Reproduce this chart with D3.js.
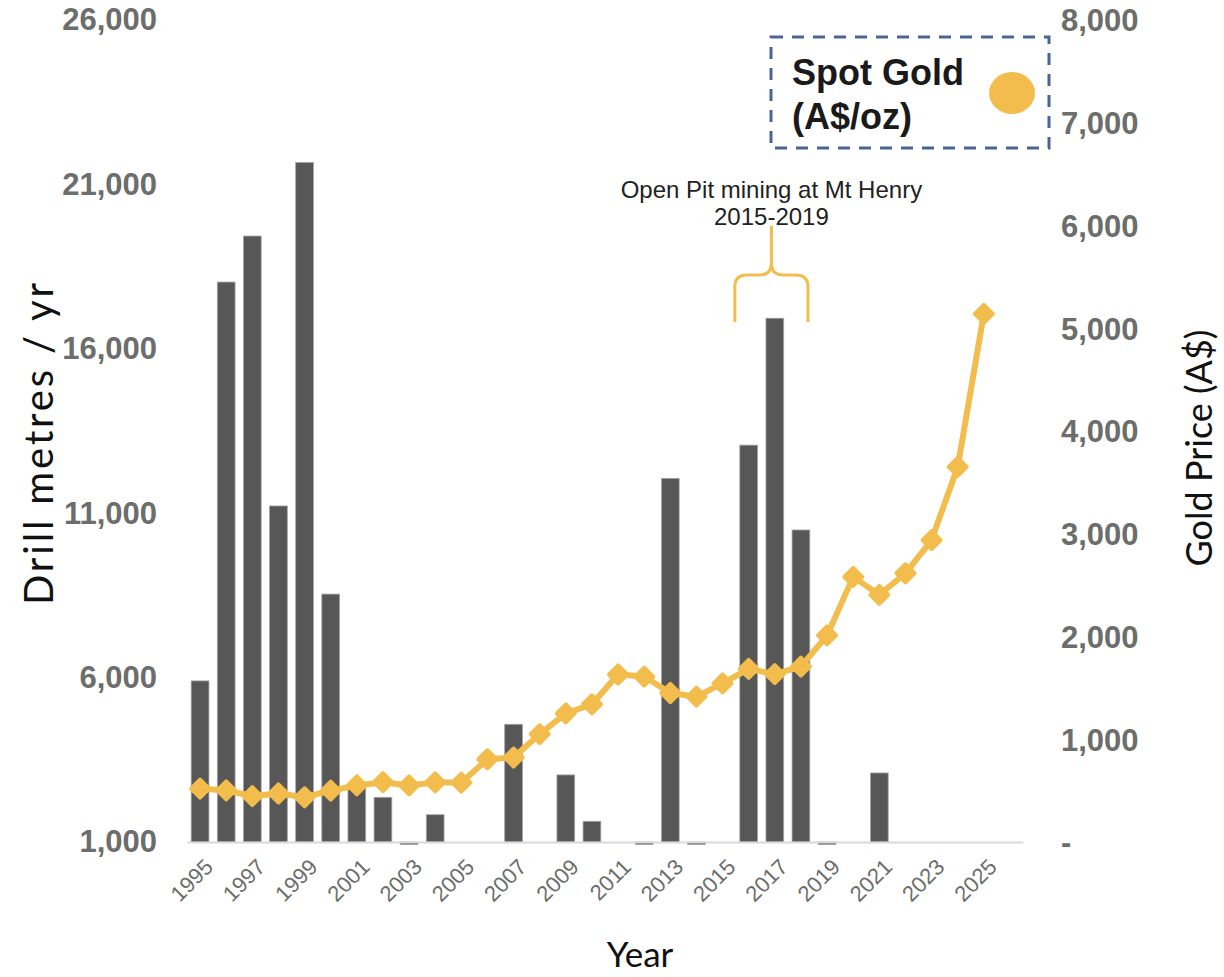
<!DOCTYPE html>
<html>
<head>
<meta charset="utf-8">
<script src="https://cdn.jsdelivr.net/npm/d3@7/dist/d3.min.js"></script>
<style>
  html, body { margin: 0; padding: 0; background: #ffffff; }
  svg { display: block; }
</style>
</head>
<body>
<svg id="chart" width="1224" height="977"></svg>
<script>
// ---------------- DATA ----------------
const years = d3.range(1995, 2027); // 1995 .. 2026 (2026 empty slot)
const drillMetres = [5900, 18030, 19430, 11220, 21670, 8540, 2670, 2360, 920, 1830,
  null, null, 4580, null, 3040, 1630, null, 920, 12060, 920,
  null, 13070, 16930, 10490, 920, null, 3100, null, null, null, null, null];
const goldPrice = [530, 512, 457, 482, 445, 510, 560, 592, 560, 590,
  588, 815, 832, 1060, 1262, 1350, 1640, 1620, 1460, 1424,
  1554, 1695, 1643, 1716, 2020, 2590, 2415, 2625, 2948, 3660, 5150, null];
const xTickYears = d3.range(1995, 2026, 2);
const leftTicks = [1000, 6000, 11000, 16000, 21000, 26000];
const rightTicks = [0, 1000, 2000, 3000, 4000, 5000, 6000, 7000, 8000];
const annotationLines = ["Open Pit mining at Mt Henry", "2015-2019"];
const annotationSpan = [2015, 2018];
const legendLines = ["Spot Gold", "(A$/oz)"];

// ---------------- SETUP ----------------
const svg = d3.select("#chart");
const GOLD = "#f2bd4c";
const BAR = "#575757";
const TICK = "#6b6e6b";

const x = d3.scaleBand().domain(years).range([187, 1023]).paddingInner(0.32).paddingOuter(0.16);
const yL = d3.scaleLinear().domain([1000, 26000]).range([842, 20]);
const yR = d3.scaleLinear().domain([0, 8000]).range([843, 21]);
const cx = d => x(d) + x.bandwidth() / 2;

// bars
const barData = years.map((yr, i) => ({ yr, v: drillMetres[i] })).filter(d => d.v != null);
svg.append("g").selectAll("rect").data(barData).join("rect")
  .attr("x", d => x(d.yr))
  .attr("width", x.bandwidth())
  .attr("y", d => Math.min(yL(d.v), yL(1000)))
  .attr("height", d => Math.abs(yL(1000) - yL(d.v)))
  .attr("fill", BAR)
  .attr("stroke", "#a6a6a6")
  .attr("stroke-width", 0.8);

// x axis line
const xAxis = d3.axisBottom(x).tickValues(xTickYears).tickSize(0).tickFormat(d3.format("d"));
const gx = svg.append("g").attr("transform", `translate(0,${yL(1000)})`).call(xAxis);
gx.select(".domain").attr("stroke", "#d9d9d9").attr("stroke-width", 2);
gx.selectAll(".tick text")
  .attr("font-family", "'Liberation Sans', Arial, sans-serif")
  .attr("font-size", 22)
  .attr("fill", TICK)
  .attr("text-anchor", "end")
  .attr("dy", null)
  .attr("y", null)
  .attr("transform", "translate(9,21) rotate(-45)")
  .attr("dominant-baseline", "central");

// left axis
const gl = svg.append("g").attr("transform", "translate(187,0)")
  .call(d3.axisLeft(yL).tickValues(leftTicks).tickSize(0).tickPadding(30).tickFormat(d3.format(",")));
gl.select(".domain").remove();
gl.selectAll(".tick text")
  .attr("font-family", "'Liberation Sans', Arial, sans-serif")
  .attr("font-weight", "bold")
  .attr("font-size", 31)
  .attr("fill", TICK);

// right axis
const gr = svg.append("g").attr("transform", "translate(1023,0)")
  .call(d3.axisRight(yR).tickValues(rightTicks).tickSize(0).tickPadding(38)
    .tickFormat(d => d === 0 ? "-" : d3.format(",")(d)));
gr.select(".domain").remove();
gr.selectAll(".tick text")
  .attr("font-family", "'Liberation Sans', Arial, sans-serif")
  .attr("font-weight", "bold")
  .attr("font-size", 31)
  .attr("fill", TICK);

// gold line
const goldData = years.map((yr, i) => ({ yr, v: goldPrice[i] })).filter(d => d.v != null);
const line = d3.line().x(d => cx(d.yr)).y(d => yR(d.v));
svg.append("path").datum(goldData)
  .attr("d", line)
  .attr("fill", "none")
  .attr("stroke", GOLD)
  .attr("stroke-width", 6)
  .attr("stroke-linejoin", "round");
const diamond = "M0,-9L9,0L0,9L-9,0Z";
svg.append("g").selectAll("path").data(goldData).join("path")
  .attr("transform", d => `translate(${cx(d.yr)},${yR(d.v)})`)
  .attr("d", diamond)
  .attr("fill", GOLD)
  .attr("stroke", GOLD)
  .attr("stroke-width", 4)
  .attr("stroke-linejoin", "round");

// axis titles
svg.append("text")
  .attr("transform", "translate(53,444) rotate(-90)")
  .attr("text-anchor", "middle")
  .attr("font-family", "Lato, 'Open Sans', sans-serif")
  .attr("font-size", 40)
  .attr("textLength", 322)
  .attr("lengthAdjust", "spacing")
  .attr("fill", "#111")
  .text("Drill metres / yr");
svg.append("text")
  .attr("transform", "translate(1212,448) rotate(-90)")
  .attr("text-anchor", "middle")
  .attr("font-family", "Lato, 'Open Sans', sans-serif")
  .attr("font-size", 36)
  .attr("fill", "#111")
  .text("Gold Price (A$)");
svg.append("text")
  .attr("x", 640).attr("y", 967)
  .attr("text-anchor", "middle")
  .attr("font-family", "Lato, 'Open Sans', sans-serif")
  .attr("font-size", 35)
  .attr("fill", "#111")
  .text("Year");

// annotation bracket
const bl = cx(annotationSpan[0]) + x.step() * 0.47;
const br = cx(annotationSpan[1]) + x.step() * 0.27;
const bm = (bl + br) / 2;
const yBottom = 322, yH = 275, yTip = 226, r = 12;
const brace = `M${bl},${yBottom} L${bl},${yH + r} Q${bl},${yH} ${bl + r},${yH} L${bm - r},${yH} Q${bm},${yH} ${bm},${yH - r} L${bm},${yTip}` +
  ` M${br},${yBottom} L${br},${yH + r} Q${br},${yH} ${br - r},${yH} L${bm + r},${yH} Q${bm},${yH} ${bm},${yH - r}`;
svg.append("path").attr("d", brace)
  .attr("fill", "none").attr("stroke", GOLD).attr("stroke-width", 3);

svg.append("g").selectAll("text").data(annotationLines).join("text")
  .attr("x", bm)
  .attr("y", (d, i) => 189 + i * 27)
  .attr("text-anchor", "middle")
  .attr("dominant-baseline", "central")
  .attr("font-family", "'Liberation Sans', Arial, sans-serif")
  .attr("font-size", 24)
  .attr("fill", "#222")
  .text(d => d);

// legend
const lg = svg.append("g");
lg.append("rect")
  .attr("x", 771).attr("y", 37).attr("width", 278).attr("height", 111)
  .attr("fill", "#fff")
  .attr("stroke", "#4a6595").attr("stroke-width", 3).attr("stroke-dasharray", "12,9");
lg.selectAll("text").data(legendLines).join("text")
  .attr("x", 792)
  .attr("y", (d, i) => 85 + i * 44)
  .attr("font-family", "'Liberation Sans', Arial, sans-serif")
  .attr("font-weight", "bold")
  .attr("font-size", 36)
  .attr("fill", "#1a1a1a")
  .text(d => d);
lg.append("ellipse")
  .attr("cx", 1012).attr("cy", 93).attr("rx", 23).attr("ry", 21)
  .attr("fill", GOLD);
</script>
</body>
</html>
